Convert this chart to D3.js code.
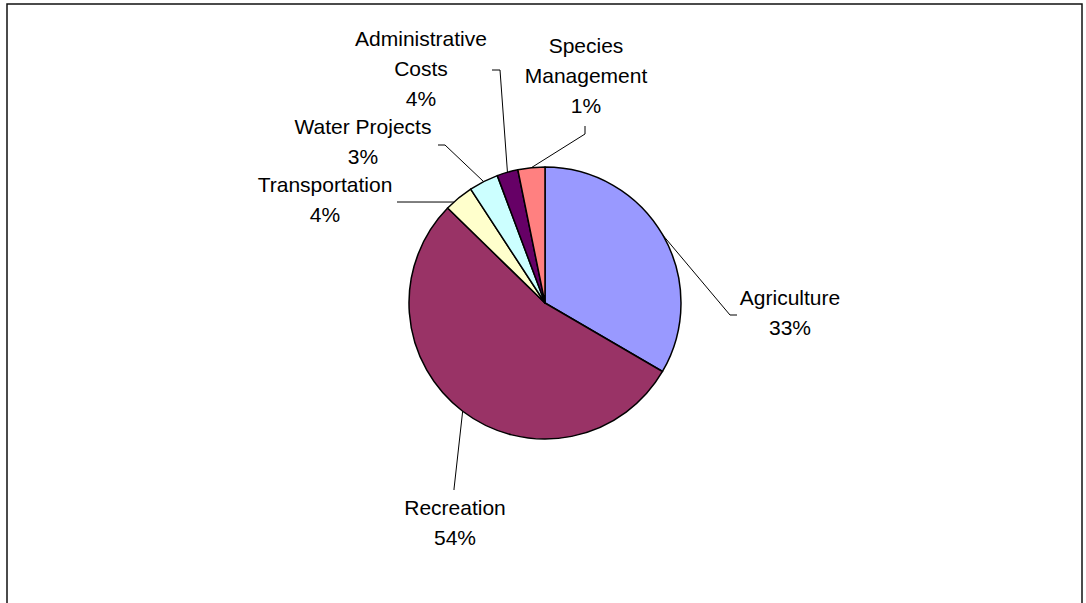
<!DOCTYPE html>
<html>
<head>
<meta charset="utf-8">
<script src="https://cdn.jsdelivr.net/npm/d3@7"></script>
<style>
  body { margin: 0; background: #fff; }
  svg { display: block; }
  text { font-family: "Liberation Sans", Arial, sans-serif; font-size: 21px; fill: #000; }
</style>
</head>
<body>
<div id="chart"></div>
<script>
// slice shares as drawn, in Excel order (clockwise from 12 o'clock)
const categories = ['Agriculture', 'Recreation', 'Transportation', 'Water Projects', 'Administrative Costs', 'Species Management'];
const values = [33.4, 53.9, 3.5, 3.5, 2.5, 3.2];
// percentages printed on the data labels
const labelPct = ['33%', '54%', '4%', '3%', '4%', '1%'];
const colors = ['#9999FF', '#993366', '#FFFFCC', '#CCFFFF', '#660066', '#FF8080'];

// label layout: text lines, centre x, first baseline, leader attach point (share of slice), elbow and end
const labelLines = [['Agriculture'], ['Recreation'], ['Transportation'], ['Water Projects'], ['Administrative', 'Costs'], ['Species', 'Management']];
const labelPos = [[790, 305], [455, 515], [325, 192], [363, 134], [421, 46], [586, 53]];
const attach = [0.5, 0.5, 0.29, 0.5, 0.5, 0.5];
const leaderPts = [[[730, 315], [737, 315]], [[454, 489], [454, 490]], [[397, 202]], [[445, 145], [438, 145]], [[500, 70], [492, 70]], [[585, 134], [585, 126]]];

const width = 1086, height = 603;
const cx = 545, cy = 303, r = 136;
const lineH = 30;

const svg = d3.select('#chart').append('svg')
  .attr('width', width)
  .attr('height', height);

// chart area border
svg.append('rect')
  .attr('x', 7).attr('y', 4)
  .attr('width', 1075).attr('height', 640)
  .attr('fill', 'none')
  .attr('stroke', '#111')
  .attr('stroke-width', 1.5);

const pie = d3.pie().sort(null).value((d) => d);
const arcs = pie(values);
const arc = d3.arc().innerRadius(0).outerRadius(r);

const g = svg.append('g').attr('transform', `translate(${cx},${cy})`);

g.selectAll('path')
  .data(arcs)
  .enter().append('path')
  .attr('d', arc)
  .attr('fill', (d, i) => colors[i])
  .attr('stroke', '#000')
  .attr('stroke-width', 1.5)
  .attr('stroke-linejoin', 'round');

// leader lines from slice edge
const line = d3.line();
svg.append('g')
  .selectAll('path')
  .data(arcs)
  .enter().append('path')
  .attr('d', (d, i) => {
    const a = d.startAngle + (d.endAngle - d.startAngle) * attach[i];
    const start = [cx + r * Math.sin(a), cy - r * Math.cos(a)];
    return line([start].concat(leaderPts[i]));
  })
  .attr('fill', 'none')
  .attr('stroke', '#000')
  .attr('stroke-width', 1);

// data labels
const labels = svg.append('g')
  .selectAll('text')
  .data(categories)
  .enter().append('text')
  .attr('text-anchor', 'middle')
  .attr('x', (d, i) => labelPos[i][0])
  .attr('y', (d, i) => labelPos[i][1]);

labels.each(function (d, i) {
  const t = d3.select(this);
  const lines = labelLines[i].concat([labelPct[i]]);
  lines.forEach((s, k) => {
    t.append('tspan')
      .attr('x', labelPos[i][0])
      .attr('dy', k === 0 ? 0 : lineH)
      .text(s);
  });
});
</script>
</body>
</html>
